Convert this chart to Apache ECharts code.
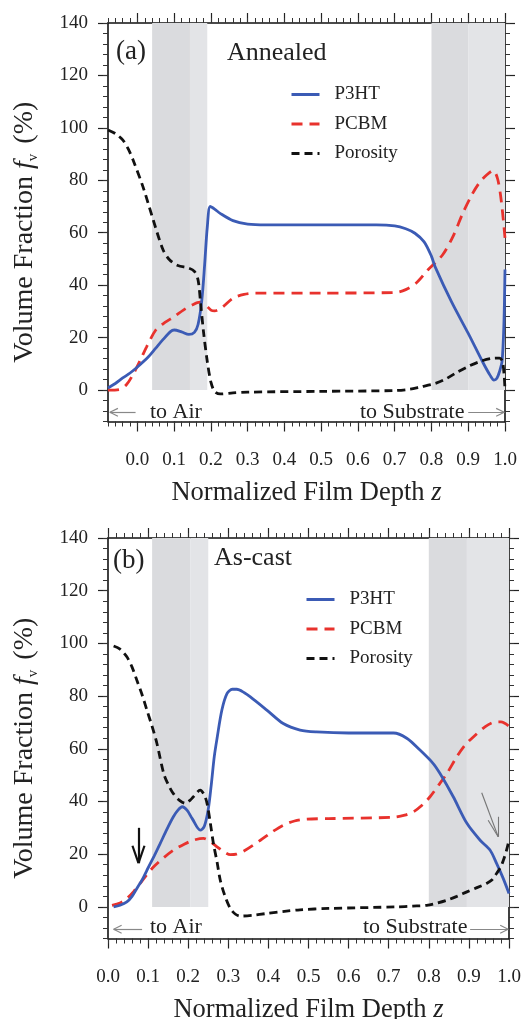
<!DOCTYPE html>
<html><head><meta charset="utf-8">
<script src="https://cdn.jsdelivr.net/npm/echarts@6/dist/echarts.min.js"></script>
<style>html,body{margin:0;padding:0;background:#fff}#c{width:522px;height:1019px}</style>
</head><body><div id="c"></div>
<script>
// ---- data ----
const seriesNames = ['P3HT', 'PCBM', 'Porosity'];
const xTickLabels = [0.0, 0.1, 0.2, 0.3, 0.4, 0.5, 0.6, 0.7, 0.8, 0.9, 1.0];
const yTickLabels = [0, 20, 40, 60, 80, 100, 120, 140];
const panelLabels = ['(a)', '(b)'];
const panelTitles = ['Annealed', 'As-cast'];

// (a) Annealed
const aP3HT = [[-0.08,0.8],[-0.06,2.5],[-0.04,4.6],[-0.02,6.5],[0.0,8.8],[0.03,12.7],[0.05,16],[0.07,19.3],[0.09,22.3],[0.10,22.9],[0.12,22.2],[0.14,21.2],[0.155,22],[0.165,25],[0.175,34],[0.183,48],[0.19,62],[0.198,70],[0.21,69],[0.225,67.4],[0.26,64.6],[0.3,63.3],[0.35,63],[0.5,63],[0.65,63],[0.7,62.6],[0.73,61.5],[0.755,59.8],[0.78,56.5],[0.80,51],[0.81,47],[0.855,33.5],[0.9,21.6],[0.94,10.5],[0.96,5.5],[0.97,3.8],[0.978,4.5],[0.985,7],[0.992,11],[0.997,25],[1.0,46]];
const aPCBM = [[-0.08,0],[-0.05,0.2],[-0.03,2],[-0.01,6.4],[0.01,12],[0.025,16.5],[0.05,22.9],[0.075,25.8],[0.10,28],[0.125,30.5],[0.15,32.5],[0.17,33.5],[0.185,32.5],[0.2,30.5],[0.21,30.2],[0.23,31.5],[0.26,35],[0.29,36.5],[0.32,37],[0.5,37],[0.7,37.2],[0.73,38.3],[0.76,41],[0.79,45.8],[0.83,51.5],[0.86,59],[0.885,67.4],[0.91,74.5],[0.93,79],[0.95,82],[0.968,83.7],[0.98,80.5],[0.99,72],[1.0,58]];
const aPoro = [[-0.08,99.2],[-0.06,97.8],[-0.04,95.4],[-0.025,92],[-0.012,87.8],[0.015,77.6],[0.043,64.9],[0.07,53.4],[0.088,49.6],[0.11,47.5],[0.14,46.5],[0.155,45.3],[0.165,42],[0.172,33],[0.18,22],[0.19,11],[0.2,3],[0.21,-0.5],[0.225,-1.5],[0.26,-1.1],[0.3,-0.8],[0.5,-0.5],[0.7,-0.2],[0.74,0.3],[0.77,1.2],[0.81,2.5],[0.84,4.3],[0.865,6.4],[0.9,9],[0.93,10.8],[0.965,12.1],[0.985,12.2],[0.993,11],[0.998,5],[1.0,0]];
const aBands = [[0.04,0.143,0],[0.143,0.19,1],[0.80,0.90,0],[0.90,1.0,1]];

// (b) As-cast
const bP3HT = [[0.014,0],[0.03,0.6],[0.047,1.9],[0.06,4],[0.072,7],[0.085,10.2],[0.097,13.9],[0.115,19.3],[0.13,24],[0.147,29.5],[0.163,34.2],[0.175,36.8],[0.185,38],[0.197,36.7],[0.21,33.5],[0.23,29.1],[0.24,30.5],[0.25,37],[0.258,47],[0.265,57],[0.272,64],[0.284,74.7],[0.297,81],[0.31,82.6],[0.321,82.6],[0.34,81.3],[0.355,79.7],[0.396,74.7],[0.437,69.6],[0.479,67.1],[0.52,66.4],[0.6,66],[0.712,66],[0.745,64],[0.778,59.5],[0.811,54.4],[0.828,50.6],[0.861,41.8],[0.895,31.7],[0.928,25.3],[0.953,21.5],[0.969,16.5],[0.985,11],[1.0,5.1]];
const bPCBM = [[0.01,0.6],[0.03,1.5],[0.047,3.2],[0.065,6],[0.08,8.9],[0.097,12.2],[0.114,15.2],[0.14,18.8],[0.163,21.5],[0.19,23.8],[0.213,25.3],[0.238,26],[0.255,24.8],[0.272,22.8],[0.29,20.8],[0.305,19.8],[0.32,20],[0.34,21.3],[0.38,25.3],[0.41,28.5],[0.437,31],[0.465,32.6],[0.496,33.3],[0.55,33.5],[0.71,34],[0.74,34.8],[0.762,36.1],[0.785,38.8],[0.803,41.8],[0.825,46.3],[0.845,50.6],[0.87,57],[0.89,61.3],[0.911,64.5],[0.94,68.3],[0.961,70],[0.98,70.2],[1.0,68.6]];
const bPoro = [[0.014,99],[0.03,97.8],[0.047,94.9],[0.06,91],[0.072,86],[0.085,80.5],[0.097,74.7],[0.11,68.5],[0.122,62],[0.139,50.6],[0.15,46.5],[0.163,43],[0.18,40.2],[0.193,39.3],[0.205,40.5],[0.213,41.8],[0.23,44.3],[0.24,42.5],[0.247,39.3],[0.255,32],[0.263,24],[0.272,17],[0.28,10.1],[0.292,4],[0.305,-0.6],[0.318,-2.8],[0.33,-3.5],[0.36,-3.2],[0.396,-2.5],[0.44,-1.7],[0.479,-1.1],[0.55,-0.6],[0.72,0],[0.76,0.3],[0.795,0.6],[0.82,1.4],[0.845,2.5],[0.87,4],[0.895,5.7],[0.92,7.3],[0.944,8.9],[0.958,10.3],[0.969,12.7],[0.979,15],[0.986,17.7],[0.993,21],[1.0,25.3]];
const bBands = [[0.11,0.205,0],[0.205,0.25,1],[0.80,0.895,0],[0.895,1.0,1]];

// axis ranges
const xRanges = [[-0.08, 1.0], [0.0, 1.0]];
const yRange = [-12, 140];

// annotation arrows (data coords): [x1,y1,x2,y2]
const aAirArrow = [-0.005, -8.5, -0.075, -8.5];
const aSubArrow = [0.90, -8.5, 0.998, -8.5];
const bAirArrow = [0.085, -8.5, 0.014, -8.5];
const bSubArrow = [0.903, -8.5, 0.998, -8.5];
const bDownArrow = [0.076, 30, 0.076, 16.6];
const bGreyArrow = [0.932, 43.3, 0.973, 26.6];
const bGreyHeads = [[0.948, 32.9], [0.973, 34.2]];

// ---- style ----
const FONT = 'Liberation Serif';
const COLORS = ['#3b5bb5', '#e8322d', '#111111'];
const BAND = ['#dadbde', '#e3e4e7'];
const grids = [
  {left: 108, top: 23, width: 397, height: 398.5, outerBoundsMode: 'none', containLabel: false},
  {left: 108, top: 538, width: 401, height: 400.5, outerBoundsMode: 'none', containLabel: false}
];

const xAxes = [], yAxes = [], series = [];
function axisPair(list, gi, pos, isX) {
  const r = isX ? xRanges[gi] : yRange;
  const major = isX ? xTickLabels : yTickLabels;
  const base = {gridIndex: gi, type: 'value', min: r[0], max: r[1], position: pos,
    splitLine: {show: false}};
  const showLab = (pos === 'bottom' || pos === 'left');
  list.push(Object.assign({}, base, {
    axisLine: {show: true, onZero: false, lineStyle: {color: '#111', width: 1.6}},
    axisTick: {show: true, inside: false, length: 10, customValues: major, lineStyle: {color: '#222', width: 1.2}},
    axisLabel: {show: showLab, customValues: major, margin: isX ? 29 : 20,
      color: '#222', fontFamily: FONT, fontSize: 19,
      formatter: v => isX ? Number(v).toFixed(1) : String(Math.round(v))}
  }));
  list.push(Object.assign({}, base, {
    interval: isX ? 0.02 : 4,
    axisLine: {show: false, onZero: false},
    axisTick: {show: true, inside: false, length: 5, lineStyle: {color: '#333', width: 1}},
    axisLabel: {show: false}
  }));
}
for (let gi = 0; gi < 2; gi++) {
  axisPair(xAxes, gi, 'bottom', true);
  axisPair(xAxes, gi, 'top', true);
  axisPair(yAxes, gi, 'left', false);
  axisPair(yAxes, gi, 'right', false);
}
// axis names
[0, 4].forEach(i => {
  xAxes[i].name = '{n|Normalized Film Depth }{i|z}';
  xAxes[i].nameLocation = 'middle';
  xAxes[i].nameGap = 58;
  xAxes[i].nameTextStyle = {rich: {n: {fontFamily: FONT, fontSize: 26.5, color: '#222'},
    i: {fontFamily: FONT, fontSize: 26.5, fontStyle: 'italic', color: '#222'}}};
});
[0, 4].forEach(i => {
  yAxes[i].name = '{n|Volume Fraction }{i|f}{s|v}{n| (%)}';
  yAxes[i].nameLocation = 'middle';
  yAxes[i].nameGap = 67;
  yAxes[i].nameRotate = 90;
  yAxes[i].nameTextStyle = {padding: [0, 20, 0, 0], rich: {
    n: {fontFamily: FONT, fontSize: 28, color: '#222', lineHeight: 32},
    i: {fontFamily: FONT, fontSize: 28, fontStyle: 'italic', color: '#222', lineHeight: 32},
    s: {fontFamily: FONT, fontSize: 15, color: '#222', verticalAlign: 'bottom', lineHeight: 32, padding: [8, 3, 0, 0]}
  }};
});

function lineStyleFor(color, width) { return {color, width, type: 'solid'}; }
function arrowLines(a, head, headW, color, width) {
  const [x1, y1, x2, y2] = a;
  const dx = x2 - x1, dy = y2 - y1;
  const lines = [[{coord: [x1, y1]}, {coord: [x2, y2]}]];
  if (Math.abs(dy) < 1e-9) {
    const s = Math.sign(dx);
    lines.push([{coord: [x2 - s * head, y2 + headW]}, {coord: [x2, y2]}]);
    lines.push([{coord: [x2 - s * head, y2 - headW]}, {coord: [x2, y2]}]);
  } else if (Math.abs(dx) < 1e-9) {
    const s = Math.sign(dy);
    lines.push([{coord: [x2 - headW, y2 - s * head]}, {coord: [x2, y2]}]);
    lines.push([{coord: [x2 + headW, y2 - s * head]}, {coord: [x2, y2]}]);
  }
  return lines.map(l => { l[0].lineStyle = lineStyleFor(color, width); return l; });
}

const panelData = [[aP3HT, aPCBM, aPoro, aBands], [bP3HT, bPCBM, bPoro, bBands]];
for (let gi = 0; gi < 2; gi++) {
  const [p, c, o, bands] = panelData[gi];
  const common = {type: 'line', xAxisIndex: gi * 4, yAxisIndex: gi * 4, showSymbol: false,
    symbol: 'none', smooth: 0.3, animation: false, silent: true};
  let marks = [];
  if (gi === 0) {
    marks = marks.concat(arrowLines(aAirArrow, 0.022, 1.5, '#888', 1.2), arrowLines(aSubArrow, 0.022, 1.5, '#888', 1.2));
  } else {
    marks = marks.concat(arrowLines(bAirArrow, 0.02, 1.5, '#888', 1.2), arrowLines(bSubArrow, 0.02, 1.5, '#888', 1.2),
      arrowLines(bDownArrow, 6.6, 0.015, '#111', 2.2));
    const tip = {coord: [bGreyArrow[2], bGreyArrow[3]]};
    marks.push([{coord: [bGreyArrow[0], bGreyArrow[1]], lineStyle: lineStyleFor('#777', 1.1)}, tip]);
    bGreyHeads.forEach(h => marks.push([{coord: h, lineStyle: lineStyleFor('#777', 1.1)}, tip]));
  }
  series.push(Object.assign({}, common, {
    name: seriesNames[0], data: p, z: 5,
    lineStyle: {color: COLORS[0], width: 2.8}, itemStyle: {color: COLORS[0]},
    markArea: {silent: true, z: 1, data: bands.map(b => [
      {xAxis: b[0], yAxis: 0, itemStyle: {color: BAND[b[2]]}}, {xAxis: b[1], yAxis: 140}])}
  }));
  series.push(Object.assign({}, common, {
    name: seriesNames[1], data: c, z: 4,
    lineStyle: {color: COLORS[1], width: 2.8, type: [11, 7]}, itemStyle: {color: COLORS[1]}
  }));
  series.push(Object.assign({}, common, {
    name: seriesNames[2], data: o, z: 6,
    lineStyle: {color: COLORS[2], width: 2.8, type: [8, 5]}, itemStyle: {color: COLORS[2]},
    markLine: {silent: true, symbol: 'none', label: {show: false}, data: marks, animation: false}
  }));
}

function makeLegend(left, top) {
  return {orient: 'vertical', left: left, top: top, itemWidth: 28, itemHeight: 14, itemGap: 10.5,
    selectedMode: false, padding: 0,
    itemStyle: {opacity: 0},
    lineStyle: {width: 3},
    textStyle: {fontFamily: FONT, fontSize: 19, color: '#222', padding: [0, 0, 0, 10]},
    data: seriesNames.map(n => ({name: n}))};
}

const option = {
  animation: false,
  backgroundColor: '#fff',
  textStyle: {fontFamily: FONT},
  grid: grids,
  xAxis: xAxes,
  yAxis: yAxes,
  legend: [makeLegend(290, 85), makeLegend(305, 590)],
  series: series,
  graphic: [
    {type: 'text', left: 116, top: 38, style: {text: panelLabels[0], font: '27px "Liberation Serif"', fill: '#222'}},
    {type: 'text', left: 227, top: 40, style: {text: panelTitles[0], font: '26px "Liberation Serif"', fill: '#222'}},
    {type: 'text', left: 113, top: 547, style: {text: panelLabels[1], font: '27px "Liberation Serif"', fill: '#222'}},
    {type: 'text', left: 214, top: 545, style: {text: panelTitles[1], font: '26px "Liberation Serif"', fill: '#222'}},
    {type: 'text', left: 150, top: 401, style: {text: 'to Air', font: '22px "Liberation Serif"', fill: '#222'}},
    {type: 'text', left: 360, top: 401, style: {text: 'to Substrate', font: '22px "Liberation Serif"', fill: '#222'}},
    {type: 'text', left: 150, top: 916, style: {text: 'to Air', font: '22px "Liberation Serif"', fill: '#222'}},
    {type: 'text', left: 363, top: 916, style: {text: 'to Substrate', font: '22px "Liberation Serif"', fill: '#222'}}
  ]
};
const chart = echarts.init(document.getElementById('c'), null, {renderer: 'canvas'});
chart.setOption(option);
</script></body></html>
